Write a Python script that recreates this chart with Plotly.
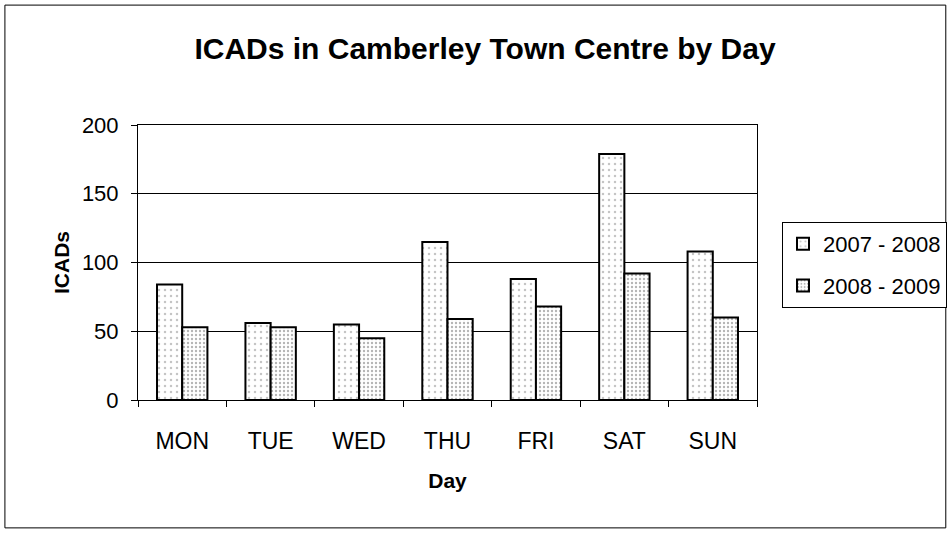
import plotly.graph_objects as go

days = ["MON", "TUE", "WED", "THU", "FRI", "SAT", "SUN"]
s2007 = [84, 56, 55, 115, 88, 179, 108]
s2008 = [53, 53, 45, 59, 68, 92, 60]
series_names = ["2007 - 2008", "2008 - 2009"]
y_ticks = [0, 50, 100, 150, 200]

FONT = "Liberation Sans, Arial, sans-serif"

fig = go.Figure()
fig.add_trace(go.Bar(
    x=days, y=s2007, name=series_names[0], legendgroup="a",
    marker=dict(color="white", line=dict(color="black", width=2),
                pattern=dict(shape=".", fgcolor="#8a8a8a", bgcolor="white", size=6, solidity=0.14)),
))
fig.add_trace(go.Bar(
    x=days, y=s2008, name=series_names[1], legendgroup="b",
    marker=dict(color="white", line=dict(color="black", width=2),
                pattern=dict(shape=".", fgcolor="#6a6a6a", bgcolor="white", size=4, solidity=0.28)),
))

fig.update_layout(
    width=951, height=534,
    margin=dict(l=138, r=194, t=125, b=134, autoexpand=False),
    paper_bgcolor="white", plot_bgcolor="white",
    barmode="group", bargap=0.43, bargroupgap=0,
    font=dict(family=FONT, color="black", size=22),
    title=dict(text="<b>ICADs in Camberley Town Centre by Day</b>",
               x=0.51, xanchor="center", y=0.91, yanchor="middle",
               font=dict(size=30, family=FONT)),
    legend=dict(xref="container", yref="container",
                x=782 / 951, y=1 - 222 / 534, xanchor="left", yanchor="top",
                bordercolor="black", borderwidth=1, bgcolor="white",
                font=dict(size=22), itemwidth=30, tracegroupgap=10),
    showlegend=True,
)
fig.update_xaxes(
    showline=True, linecolor="black", linewidth=1, mirror=True,
    ticks="outside", tickson="boundaries", ticklen=6, tickcolor="black",
    ticklabelstandoff=20, tickfont=dict(size=23),
    title=dict(text="<b>Day</b>", font=dict(size=21), standoff=20),
)
fig.update_yaxes(
    range=[0, 200], tickvals=y_ticks,
    showline=True, linecolor="black", linewidth=1, mirror=True,
    showgrid=True, gridcolor="black", gridwidth=1,
    ticks="outside", ticklen=6, tickcolor="black",
    ticklabelstandoff=8, tickfont=dict(size=22),
    title=dict(text="<b>ICADs</b>", font=dict(size=21), standoff=6),
    zeroline=False,
)
fig.add_shape(type="rect", xref="paper", yref="paper",
              x0=-0.215, x1=1.305, y0=-0.465, y1=1.436,
              line=dict(color="black", width=1))

fig.write_html("out.html", config={"displayModeBar": False},
               post_script="document.body.style.margin='0';")
